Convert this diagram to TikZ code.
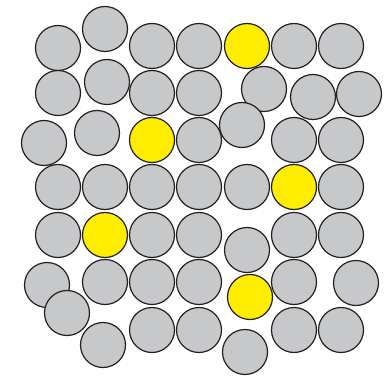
\documentclass[tikz,border=0pt]{standalone}
\usepackage{tikz}
\usepackage{xcolor}
\definecolor{discgray}{HTML}{C7C8CA}
\definecolor{discyellow}{HTML}{FFED00}
\definecolor{discline}{HTML}{231F20}
\tikzset{
  disc/.style={circle, draw=discline, line width=1.2pt, fill=discgray,
    minimum size=45pt, inner sep=0pt},
  hotdisc/.style={disc, fill=discyellow}
}
\begin{document}
\begin{tikzpicture}[x=1pt, y=-1pt]
        \useasboundingbox (0,0) rectangle (391,377);
        % grey discs, row by row
        \foreach \px/\py [count=\i] in {58/48, 105/29, 152/46, 199/46, 294/46, 341/46,
            58/93, 107/82, 152/93, 199/93, 264/89, 313/97, 359/94,
            44/143, 97/133, 199/140, 242/125, 294/140, 341/140,
            58/187, 105/187, 152/187, 199/187, 247/187, 341/187,
            58/235, 152/235, 199/235, 247/250, 294/235, 341/235,
            47/285, 105/282, 152/282, 199/282, 294/282, 356/283,
            67/313, 103/345, 152/330, 199/330, 245/352, 294/330, 341/330}
            \node[disc] (g\i) at (\px,\py) {};
        % yellow discs
        \foreach \px/\py [count=\i] in {247/46, 152/140, 294/187, 105/235, 250/297}
            \node[hotdisc] (y\i) at (\px,\py) {};
\end{tikzpicture}
\end{document}
